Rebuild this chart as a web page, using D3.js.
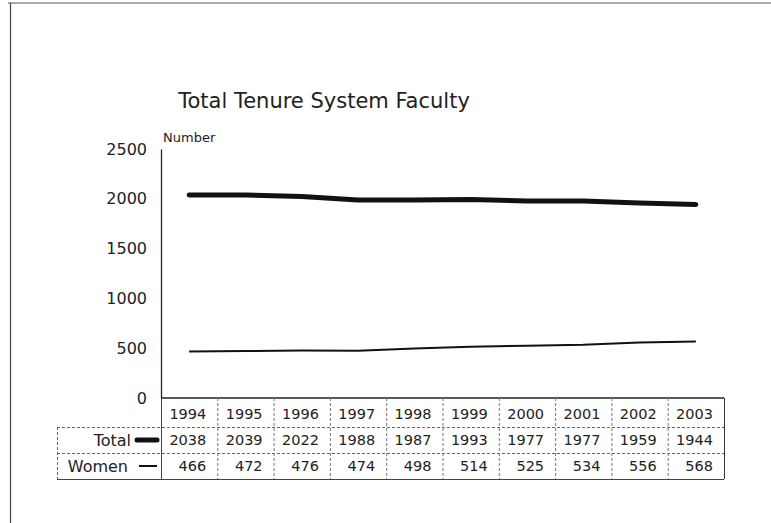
<!DOCTYPE html>
<html>
<head>
<meta charset="utf-8">
<script src="https://cdn.jsdelivr.net/npm/d3@7"></script>
<style>
  body { margin: 0; background: #fff; }
  svg { display: block; font-family: "DejaVu Sans", sans-serif; }
</style>
</head>
<body>
<svg width="771" height="523"></svg>
<script>
// chart data
const years = ["1994", "1995", "1996", "1997", "1998", "1999", "2000", "2001", "2002", "2003"];
const totalFaculty = [2038, 2039, 2022, 1988, 1987, 1993, 1977, 1977, 1959, 1944];
const womenFaculty = [466, 472, 476, 474, 498, 514, 525, 534, 556, 568];
const yTicks = [0, 500, 1000, 1500, 2000, 2500];
const seriesNames = ["Total", "Women"];

const plot = {left: 161, right: 724, top: 149, bottom: 398};
const rowH = [29, 26, 26];
const labelLeft = 57;

const svg = d3.select('svg');

// frame from the scanned page
svg.append('line').attr('x1', 8).attr('x2', 771).attr('y1', 3).attr('y2', 3)
    .attr('stroke', '#555').attr('stroke-width', 1);
svg.append('line').attr('x1', 10.5).attr('x2', 10.5).attr('y1', 3).attr('y2', 523)
    .attr('stroke', '#444').attr('stroke-width', 1.2);

const x = d3.scaleBand().domain(years).range([plot.left, plot.right]);
const y = d3.scaleLinear().domain([0, 2500]).range([plot.bottom, plot.top]);

// title
svg.append('text')
    .attr('x', 324).attr('y', 108)
    .attr('text-anchor', 'middle')
    .style('font-size', '21px')
    .style('fill', '#222')
    .text('Total Tenure System Faculty');

svg.append('text')
    .attr('x', 163).attr('y', 142)
    .style('font-size', '13px')
    .style('fill', '#222')
    .text('Number');

// y axis
const yAxis = d3.axisLeft(y).tickValues(yTicks).tickSize(0).tickPadding(14)
    .tickFormat(d3.format('d'));
const ya = svg.append('g').attr('transform', 'translate(' + plot.left + ',0)').call(yAxis);
ya.select('.domain').attr('stroke', '#222').attr('stroke-width', 1.3);
ya.selectAll('text').style('font-size', '16px').style('fill', '#222')
    .style('font-family', '"DejaVu Sans", sans-serif');

// x axis line
svg.append('line')
    .attr('x1', plot.left).attr('x2', plot.right)
    .attr('y1', plot.bottom).attr('y2', plot.bottom)
    .attr('stroke', '#222').attr('stroke-width', 1.3);

// lines
const line = d3.line()
    .x((d, i) => x(years[i]) + x.bandwidth() / 2)
    .y(d => y(d));

svg.append('path').datum(totalFaculty)
    .attr('d', line).attr('fill', 'none')
    .attr('stroke', '#111').attr('stroke-width', 5)
    .attr('stroke-linecap', 'round');

svg.append('path').datum(womenFaculty)
    .attr('d', line).attr('fill', 'none')
    .attr('stroke', '#111').attr('stroke-width', 2);

// data table
const rowTop = [plot.bottom, plot.bottom + rowH[0], plot.bottom + rowH[0] + rowH[1]];
const tableBottom = rowTop[2] + rowH[2];
const table = svg.append('g');

// horizontal lines
[rowTop[1], rowTop[2]].forEach(function(yy) {
    table.append('line')
        .attr('x1', labelLeft).attr('x2', plot.right)
        .attr('y1', yy + 0.5).attr('y2', yy + 0.5)
        .attr('stroke', '#666').attr('stroke-dasharray', '3,2');
});
table.append('line')
    .attr('x1', labelLeft).attr('x2', plot.right)
    .attr('y1', tableBottom + 0.5).attr('y2', tableBottom + 0.5)
    .attr('stroke', '#444');
table.append('line')
    .attr('x1', labelLeft + 0.5).attr('x2', labelLeft + 0.5)
    .attr('y1', rowTop[1]).attr('y2', tableBottom)
    .attr('stroke', '#666').attr('stroke-dasharray', '3,2');
table.append('line')
    .attr('x1', plot.right + 0.5).attr('x2', plot.right + 0.5)
    .attr('y1', plot.bottom).attr('y2', tableBottom)
    .attr('stroke', '#333');

// column separators
years.forEach(function(yr, i) {
    const xx = x(yr) + 0.5;
    table.append('line')
        .attr('x1', xx).attr('x2', xx)
        .attr('y1', plot.bottom).attr('y2', tableBottom)
        .attr('stroke', i === 0 ? '#444' : '#777')
        .attr('stroke-dasharray', i === 0 ? null : '3,2');
});

// cell text
const rows = [years, totalFaculty, womenFaculty];
rows.forEach(function(vals, r) {
    table.selectAll(null).data(vals).enter()
        .append('text')
        .attr('x', (d, i) => x(years[i]) + x.bandwidth() - 11)
        .attr('y', rowTop[r] + rowH[r] - 8)
        .attr('text-anchor', 'end')
        .style('font-size', '14.5px')
        .style('fill', '#222')
        .text(d => d);
});

// series labels with legend keys
seriesNames.forEach(function(name, i) {
    const r = i + 1;
    const cy = rowTop[r] + rowH[r] / 2;
    table.append('text')
        .attr('x', i === 0 ? 131 : 128)
        .attr('y', rowTop[r] + rowH[r] - 7)
        .attr('text-anchor', 'end')
        .style('font-size', '16px')
        .style('fill', '#222')
        .text(name);
    table.append('line')
        .attr('x1', i === 0 ? 137 : 139).attr('x2', 157)
        .attr('y1', cy).attr('y2', cy)
        .attr('stroke', '#111')
        .attr('stroke-width', i === 0 ? 5 : 2)
        .attr('stroke-linecap', i === 0 ? 'round' : 'butt');
});
</script>
</body>
</html>
